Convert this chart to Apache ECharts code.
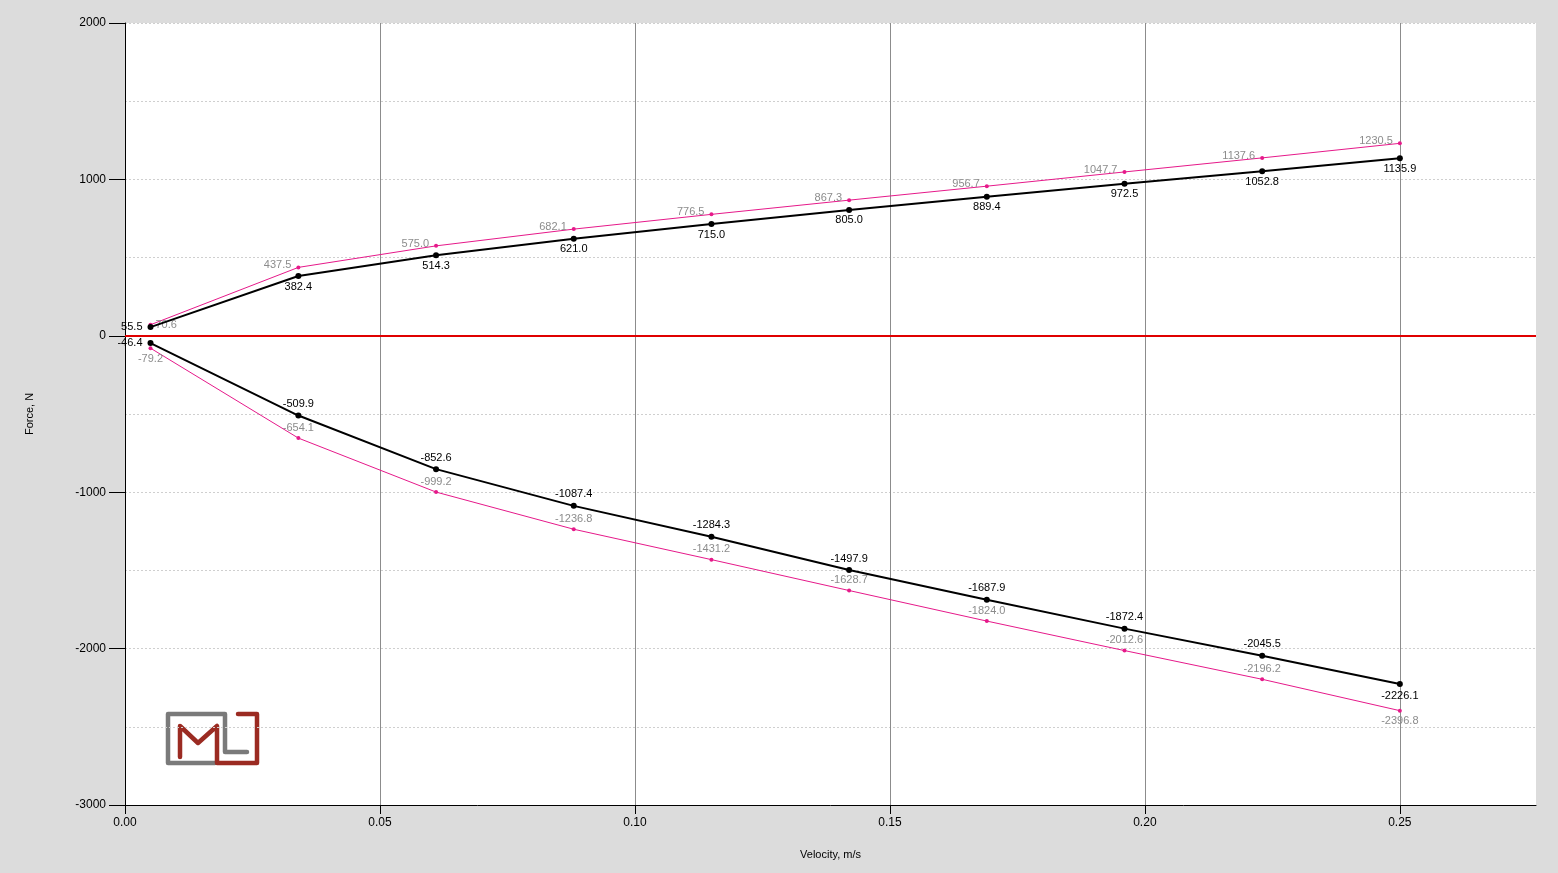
<!DOCTYPE html>
<html>
<head>
  <meta charset="utf-8">
</head>
<body style="height: 100%; margin: 0">
  <div id="container" style="width: 1558px; height: 873px"></div>
  <script type="text/javascript" src="https://cdn.jsdelivr.net/npm/echarts@6/dist/echarts.min.js"></script>
  <script type="text/javascript">
    // chart data
    var velocity = [0.005, 0.034, 0.061, 0.088, 0.115, 0.142, 0.169, 0.196, 0.223, 0.25];
    var reboundMeasured = [55.5, 382.4, 514.3, 621.0, 715.0, 805.0, 889.4, 972.5, 1052.8, 1135.9];
    var reboundRef = [70.6, 437.5, 575.0, 682.1, 776.5, 867.3, 956.7, 1047.7, 1137.6, 1230.5];
    var compMeasured = [-46.4, -509.9, -852.6, -1087.4, -1284.3, -1497.9, -1687.9, -1872.4, -2045.5, -2226.1];
    var compRef = [-79.2, -654.1, -999.2, -1236.8, -1431.2, -1628.7, -1824.0, -2012.6, -2196.2, -2396.8];

    var dom = document.getElementById('container');
    var myChart = echarts.init(dom, null, { renderer: 'canvas' });

    var last = velocity.length - 1;
    function pairs(vals, posFn) {
      return vals.map(function (v, i) {
        return { value: [velocity[i], v], label: posFn(i) };
      });
    }

    function lineSeries(vals, kind, posFn) {
      var black = kind === 'black';
      return {
        type: 'line',
        data: pairs(vals, posFn),
        symbol: 'circle',
        symbolSize: black ? 6 : 4,
        z: black ? 3 : 2,
        lineStyle: { color: black ? '#000' : '#e6198a', width: black ? 2 : 1 },
        itemStyle: { color: black ? '#000' : '#e6198a' },
        label: {
          show: true,
          fontFamily: 'Liberation Sans, Arial',
          fontSize: 11,
          color: black ? '#000' : '#8c8c8c',
          formatter: function (p) { return p.value[1].toFixed(1); }
        },
        emphasis: { disabled: true }
      };
    }

    var font = 'Liberation Sans, Arial';

    var option = {
      backgroundColor: '#dcdcdc',
      animation: false,
      grid: {
        left: 125, right: 22, top: 23, bottom: 68,
        show: true, backgroundColor: '#fff', borderWidth: 0
      },
      xAxis: {
        type: 'value',
        min: 0, max: 0.2767, interval: 0.05,
        name: 'Velocity, m/s', nameLocation: 'middle', nameGap: 44,
        nameTextStyle: { fontFamily: font, fontSize: 11, color: '#000' },
        axisLine: { onZero: false, lineStyle: { color: '#000', width: 1 } },
        axisTick: { show: true, length: 9, lineStyle: { color: '#000' } },
        axisLabel: {
          fontFamily: font, fontSize: 12, color: '#000', margin: 12, showMaxLabel: false,
          formatter: function (v) { return v.toFixed(2); }
        },
        splitLine: { show: true, showMaxLine: false, lineStyle: { color: '#8c8c8c', width: 1 } }
      },
      yAxis: {
        type: 'value',
        min: -3000, max: 2000, interval: 1000,
        name: 'Force, N', nameLocation: 'middle', nameGap: 90,
        nameTextStyle: { fontFamily: font, fontSize: 11, color: '#000' },
        axisLine: { show: true, lineStyle: { color: '#000', width: 1 } },
        axisTick: { show: true, length: 16, lineStyle: { color: '#000' } },
        axisLabel: {
          fontFamily: font, fontSize: 12, color: '#000', margin: 19,
          formatter: function (v) { return String(v); }
        },
        splitLine: { show: true, lineStyle: { color: '#cfcfcf', type: [2, 2] } },
        minorTick: { show: false, splitNumber: 2 },
        minorSplitLine: { show: true, lineStyle: { color: '#cfcfcf', type: [2, 2] } }
      },
      series: [
        lineSeries(reboundRef, 'pink', function (i) {
          return i === 0 ? { position: 'right', distance: 3 } : { position: 'left', distance: 5, offset: [0, -2] };
        }),
        lineSeries(compRef, 'pink', function (i) {
          return (i === 0 || i === last) ? { position: 'bottom', distance: 3 } : { position: 'top', distance: 3 };
        }),
        lineSeries(reboundMeasured, 'black', function (i) {
          return i === 0 ? { position: 'left', distance: 5 } : { position: 'bottom', distance: 2 };
        }),
        lineSeries(compMeasured, 'black', function (i) {
          return i === 0 ? { position: 'left', distance: 5 } :
            (i === last ? { position: 'bottom', distance: 4 } : { position: 'top', distance: 3 });
        }),
        {
          type: 'line',
          data: [],
          markLine: {
            silent: true,
            symbol: ['none', 'none'],
            label: { show: false },
            lineStyle: { color: '#e00000', width: 2, type: 'solid' },
            data: [{ yAxis: 0 }]
          }
        }
      ],
      graphic: [
        {
          type: 'polyline',
          shape: { points: [[215, 763], [168, 763], [168, 714], [225, 714], [225, 752], [247, 752]] },
          style: { stroke: '#7a7a7a', lineWidth: 4.5, fill: null, lineJoin: 'round', lineCap: 'round' }
        },
        {
          type: 'polyline',
          shape: { points: [[180, 757], [180, 726], [198, 743], [217, 726], [217, 763], [257, 763], [257, 714], [238, 714]] },
          style: { stroke: '#9b2b22', lineWidth: 4.5, fill: null, lineJoin: 'round', lineCap: 'round' }
        }
      ]
    };

    myChart.setOption(option);
    window.addEventListener('resize', myChart.resize);
  </script>
</body>
</html>
